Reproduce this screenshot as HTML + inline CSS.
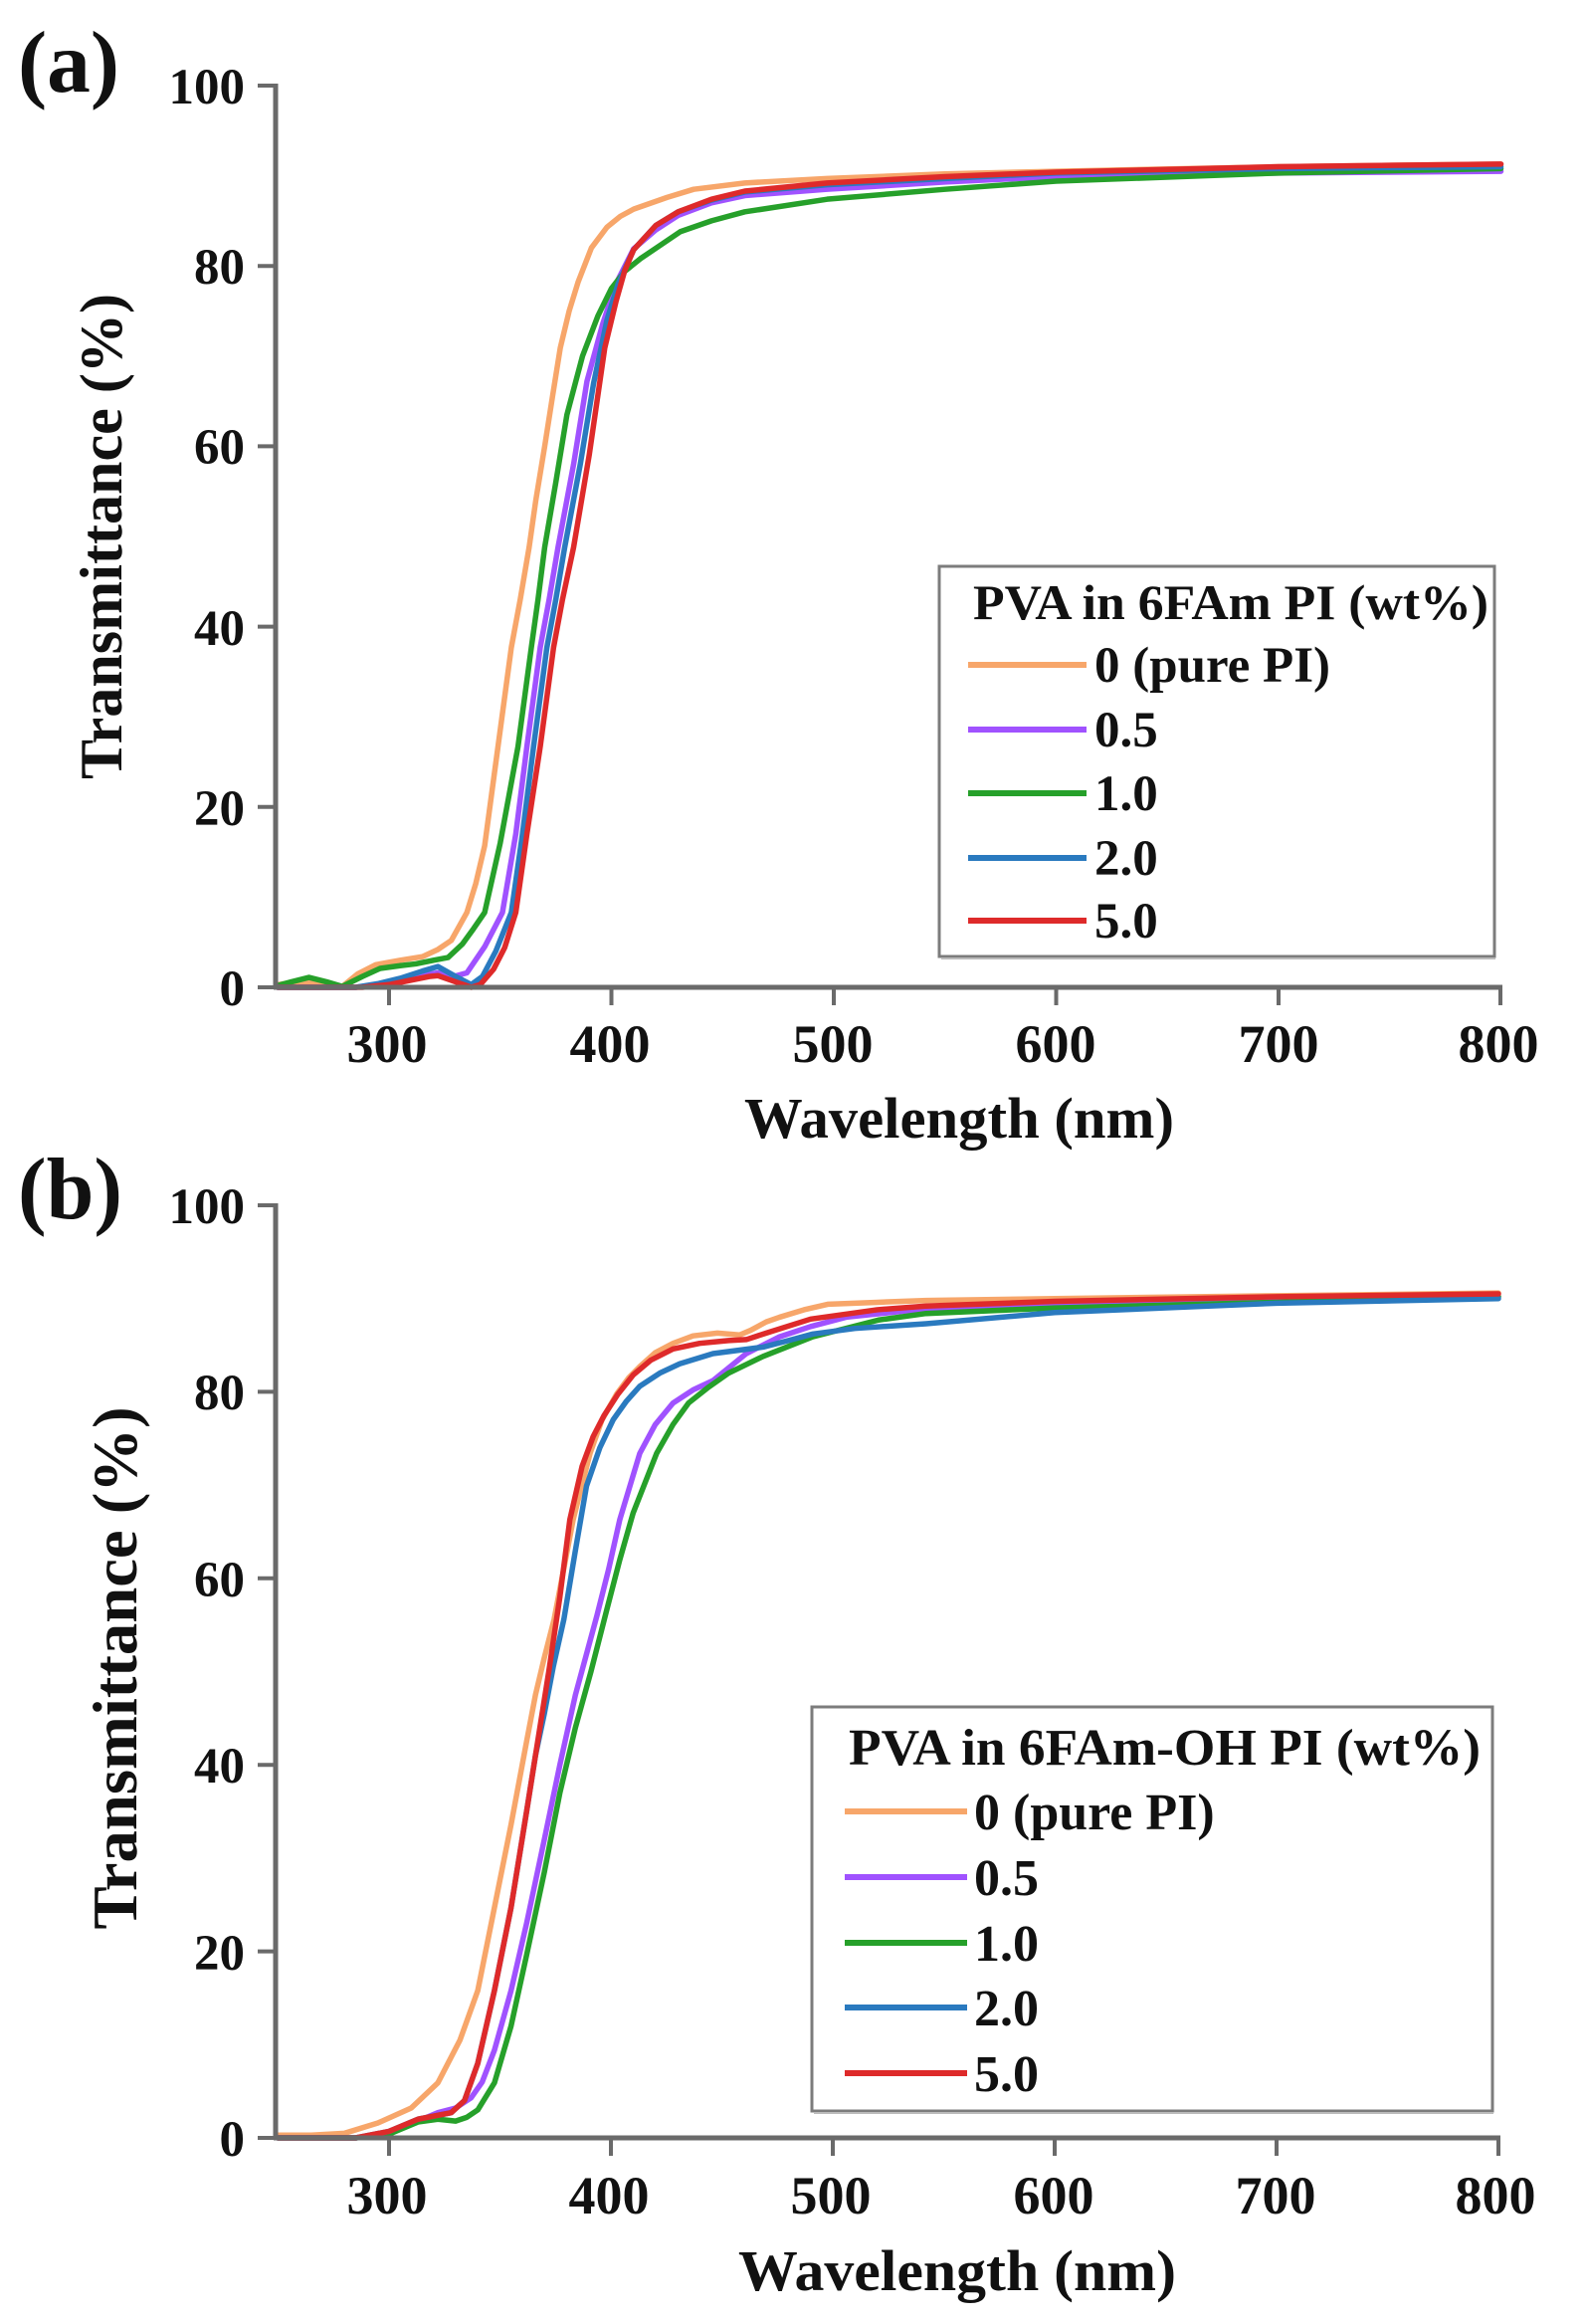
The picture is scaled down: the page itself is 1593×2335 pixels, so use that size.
<!DOCTYPE html>
<html>
<head>
<meta charset="utf-8">
<style>
  html,body{margin:0;padding:0;background:#fff;}
  svg{display:block;}
  text{font-family:"Liberation Serif","Times New Roman",serif;font-weight:bold;fill:#111;}
</style>
</head>
<body>
<svg width="1593" height="2335" viewBox="0 0 1593 2335" xmlns="http://www.w3.org/2000/svg">
  <rect x="0" y="0" width="1593" height="2335" fill="#fff"/>

  <!-- ================= PANEL (a) ================= -->
  <text x="18" y="92" font-size="88" textLength="102" lengthAdjust="spacingAndGlyphs">(a)</text>

  <g transform="matrix(2.235 0 0 -9.06 -279.5 992)" fill="none" stroke-linejoin="round" stroke-linecap="round">
    <polyline vector-effect="non-scaling-stroke" stroke="#F7A66A" stroke-width="5.5" points="250,0.3 258,0.6 265,0.5 272,0.3 279,0.1 286,1.5 294,2.5 305,3.0 315,3.4 322,4.2 328,5.2 335,8.3 339,11.5 343,15.7 349,26.7 355,37.7 359,43 363,48.8 366,54 370,60 373.5,65.5 377,70.9 381,75 385,78.2 391,82 398,84.3 404,85.5 410,86.3 425,87.6 437,88.5 460,89.2 497,89.7 550,90.2 600,90.5 700,91 800,91.3"/>
    <polyline vector-effect="non-scaling-stroke" stroke="#A052FF" stroke-width="5.5" points="250,0 285,0 295,0.3 305,0.8 315,1.3 322,1.6 329,1.2 335,1.6 343,4.5 351,8.3 357,17 362,26.7 368,37.7 372,43 376,48.8 383,58 389,67.2 396,73.5 402,78 410,81.9 420,84 430,85.6 445,87 460,87.8 497,88.5 550,89.3 600,89.9 700,90.3 800,90.5"/>
    <polyline vector-effect="non-scaling-stroke" stroke="#26A02A" stroke-width="5.5" points="250,0.2 256,0.6 264,1.1 272,0.6 279,0.1 288,1.2 296,2.1 305,2.4 312,2.6 320,3.0 326.5,3.3 333,4.8 338,6.5 343,8.3 350,16 358,26.7 364,37.7 367,43 370,48.8 375,56 380,63.5 387,70 394,74.5 400,77.5 406,79.4 413,80.8 422,82.3 431,83.8 445,85 460,86 497,87.4 550,88.5 600,89.4 700,90.3 800,90.8"/>
    <polyline vector-effect="non-scaling-stroke" stroke="#2A7ABF" stroke-width="5.5" points="250,0 285,0 295,0.4 305,1.0 315,1.8 322,2.3 330,1.2 337,0.3 342,1.2 348,4 355,8.3 360,17 365,26.7 371,37.7 375,43 379,48.8 386,58 392,67 398,74 403,78 410,81.8 420,84.5 430,86 445,87.3 460,88.2 497,89 550,89.7 600,90.3 700,90.8 800,91"/>
    <polyline vector-effect="non-scaling-stroke" stroke="#DE2A2A" stroke-width="5.5" points="250,0 288,0 300,0.3 310,0.8 318,1.2 322,1.3 330,0.6 337,0 341,0.3 347,2 352,4.4 357,8.3 362,17 368,26.7 374,37.7 378,43 383,48.8 390,59 397,70.9 402,76 406,79.5 410,81.8 420,84.5 430,86 445,87.4 460,88.3 497,89.2 550,89.9 600,90.4 700,91 800,91.3"/>
  </g>

  <g stroke="#6a6a6a" stroke-width="5" fill="none">
    <line x1="277" y1="84" x2="277" y2="994"/>
    <line x1="275" y1="992" x2="1510" y2="992"/>
  </g>
  <g stroke="#6a6a6a" stroke-width="4">
    <line x1="259" y1="86" x2="277" y2="86"/>
    <line x1="259" y1="267.2" x2="277" y2="267.2"/>
    <line x1="259" y1="448.4" x2="277" y2="448.4"/>
    <line x1="259" y1="629.6" x2="277" y2="629.6"/>
    <line x1="259" y1="810.8" x2="277" y2="810.8"/>
    <line x1="259" y1="992" x2="277" y2="992"/>
    <line x1="391" y1="992" x2="391" y2="1010"/>
    <line x1="614.5" y1="992" x2="614.5" y2="1010"/>
    <line x1="838" y1="992" x2="838" y2="1010"/>
    <line x1="1061.5" y1="992" x2="1061.5" y2="1010"/>
    <line x1="1285" y1="992" x2="1285" y2="1010"/>
    <line x1="1508" y1="992" x2="1508" y2="1010"/>
  </g>
  <g font-size="51" text-anchor="end">
    <text x="246" y="104">100</text>
    <text x="246" y="285">80</text>
    <text x="246" y="466">60</text>
    <text x="246" y="648">40</text>
    <text x="246" y="829">20</text>
    <text x="246" y="1010">0</text>
  </g>
  <g font-size="54" text-anchor="middle">
    <text x="389" y="1067">300</text>
    <text x="613" y="1067">400</text>
    <text x="837" y="1067">500</text>
    <text x="1061" y="1067">600</text>
    <text x="1285" y="1067">700</text>
    <text x="1506" y="1067">800</text>
  </g>
  <text x="964" y="1143" font-size="58" text-anchor="middle" textLength="432" lengthAdjust="spacingAndGlyphs">Wavelength (nm)</text>
  <text transform="translate(122,539) rotate(-90)" font-size="60" text-anchor="middle" textLength="488" lengthAdjust="spacingAndGlyphs">Transmittance (%)</text>

  <rect x="944" y="569" width="558" height="392" fill="#fff" stroke="#7c7c7c" stroke-width="3"/>
  <line x1="946" y1="963" x2="1503" y2="963" stroke="#bbb" stroke-width="2"/>
  <text x="978" y="622" font-size="50" textLength="518" lengthAdjust="spacingAndGlyphs">PVA in 6FAm PI (wt%)</text>
  <g stroke-width="6">
    <line x1="973" y1="668" x2="1092" y2="668" stroke="#F7A66A"/>
    <line x1="973" y1="733" x2="1092" y2="733" stroke="#A052FF"/>
    <line x1="973" y1="797" x2="1092" y2="797" stroke="#26A02A"/>
    <line x1="973" y1="862" x2="1092" y2="862" stroke="#2A7ABF"/>
    <line x1="973" y1="925" x2="1092" y2="925" stroke="#DE2A2A"/>
  </g>
  <g font-size="51">
    <text x="1100" y="685">0 (pure PI)</text>
    <text x="1100" y="750">0.5</text>
    <text x="1100" y="814">1.0</text>
    <text x="1100" y="879">2.0</text>
    <text x="1100" y="942">5.0</text>
  </g>

  <!-- ================= PANEL (b) ================= -->
  <text x="18" y="1224" font-size="88" textLength="105" lengthAdjust="spacingAndGlyphs">(b)</text>

  <g transform="matrix(2.23 0 0 -9.37 -278 2148)" fill="none" stroke-linejoin="round" stroke-linecap="round">
    <polyline vector-effect="non-scaling-stroke" stroke="#F7A66A" stroke-width="5.5" points="250,0.3 265,0.3 280,0.5 295,1.6 310,3.2 322,5.9 332,10.5 340,15.8 347.5,24.7 355,33.6 362,42.5 366,47.5 370,51.5 374.4,55.6 383,66.3 390.6,73.4 396,77 402.7,79.8 408,81.5 413,82.7 420,84.2 428,85.2 437,86 448,86.3 458,86.1 463,86.6 470,87.5 476,88 487,88.8 498,89.4 520,89.6 542,89.8 600,90 700,90.3 800,90.6"/>
    <polyline vector-effect="non-scaling-stroke" stroke="#A052FF" stroke-width="5.5" points="250,0 285,0 300,0.5 313,1.8 322,2.7 330,3.2 337,4.3 342,6 347.5,9.4 355,15.8 362,23 370,32 377,40 384,47.5 393.7,56 399,61 404,66.3 413,73.4 420,76.5 428,78.8 437,80.2 446,81.2 461,84.1 476,85.9 490,87 506,88 542,88.9 600,89.3 700,89.8 800,90.2"/>
    <polyline vector-effect="non-scaling-stroke" stroke="#26A02A" stroke-width="5.5" points="250,0 285,0 300,0.4 313,1.7 322,2 330,1.8 335,2.2 340,3 347.5,5.9 355,12 362,19.6 370,28.5 377,37 384,44 391,50 398,56.5 404,62 410,67 420.6,73.4 428,76.5 435,78.8 444,80.5 453,82 468.6,83.8 491,85.9 520.6,87.7 542,88.4 600,89 700,89.6 800,90.2"/>
    <polyline vector-effect="non-scaling-stroke" stroke="#2A7ABF" stroke-width="5.5" points="250,0 285,0 300,0.7 313,2 328,2.7 334,4 340,8 347.5,15.8 355,24.7 362,35 366,41 370,45.5 374,50.5 378.8,55.6 384,63 389,69.9 395,74 401,77 407,79 413,80.6 422,82 431,83 446,84.1 468.6,84.8 480,85.5 491,86.2 510,86.8 542,87.3 600,88.5 700,89.5 800,90"/>
    <polyline vector-effect="non-scaling-stroke" stroke="#DE2A2A" stroke-width="5.5" points="250,0 285,0 300,0.7 313,2 328,2.7 334,4 340,8 347.5,15.8 355,24.7 362,35 368,44 372,50 377,58 381.5,66.3 387,72 392,75.2 397,77.5 403,79.7 410,81.8 418,83.4 428,84.6 440,85.2 453,85.5 461,85.6 470,86.3 490,87.8 520,88.8 542,89.2 600,89.7 700,90.2 800,90.5"/>
  </g>

  <g stroke="#6a6a6a" stroke-width="5" fill="none">
    <line x1="277" y1="1209" x2="277" y2="2150"/>
    <line x1="275" y1="2148" x2="1508" y2="2148"/>
  </g>
  <g stroke="#6a6a6a" stroke-width="4">
    <line x1="259" y1="1211" x2="277" y2="1211"/>
    <line x1="259" y1="1398.4" x2="277" y2="1398.4"/>
    <line x1="259" y1="1585.8" x2="277" y2="1585.8"/>
    <line x1="259" y1="1773.2" x2="277" y2="1773.2"/>
    <line x1="259" y1="1960.6" x2="277" y2="1960.6"/>
    <line x1="259" y1="2148" x2="277" y2="2148"/>
    <line x1="391" y1="2148" x2="391" y2="2166"/>
    <line x1="614" y1="2148" x2="614" y2="2166"/>
    <line x1="837" y1="2148" x2="837" y2="2166"/>
    <line x1="1060" y1="2148" x2="1060" y2="2166"/>
    <line x1="1283" y1="2148" x2="1283" y2="2166"/>
    <line x1="1506" y1="2148" x2="1506" y2="2166"/>
  </g>
  <g font-size="51" text-anchor="end">
    <text x="246" y="1229">100</text>
    <text x="246" y="1416">80</text>
    <text x="246" y="1604">60</text>
    <text x="246" y="1791">40</text>
    <text x="246" y="1979">20</text>
    <text x="246" y="2166">0</text>
  </g>
  <g font-size="54" text-anchor="middle">
    <text x="389" y="2224">300</text>
    <text x="612" y="2224">400</text>
    <text x="835" y="2224">500</text>
    <text x="1059" y="2224">600</text>
    <text x="1282" y="2224">700</text>
    <text x="1503" y="2224">800</text>
  </g>
  <text x="962" y="2301" font-size="58" text-anchor="middle" textLength="440" lengthAdjust="spacingAndGlyphs">Wavelength (nm)</text>
  <text transform="translate(137,1676) rotate(-90)" font-size="63" text-anchor="middle" textLength="525" lengthAdjust="spacingAndGlyphs">Transmittance (%)</text>

  <rect x="816" y="1715" width="684" height="406" fill="#fff" stroke="#7c7c7c" stroke-width="3"/>
  <line x1="818" y1="2123" x2="1501" y2="2123" stroke="#bbb" stroke-width="2"/>
  <text x="853" y="1773" font-size="52" textLength="635" lengthAdjust="spacingAndGlyphs">PVA in 6FAm-OH PI (wt%)</text>
  <g stroke-width="6">
    <line x1="849" y1="1820" x2="972" y2="1820" stroke="#F7A66A"/>
    <line x1="849" y1="1886" x2="972" y2="1886" stroke="#A052FF"/>
    <line x1="849" y1="1952" x2="972" y2="1952" stroke="#26A02A"/>
    <line x1="849" y1="2017" x2="972" y2="2017" stroke="#2A7ABF"/>
    <line x1="849" y1="2083" x2="972" y2="2083" stroke="#DE2A2A"/>
  </g>
  <g font-size="52">
    <text x="979" y="1838">0 (pure PI)</text>
    <text x="979" y="1904">0.5</text>
    <text x="979" y="1970">1.0</text>
    <text x="979" y="2035">2.0</text>
    <text x="979" y="2101">5.0</text>
  </g>
</svg>
</body>
</html>
